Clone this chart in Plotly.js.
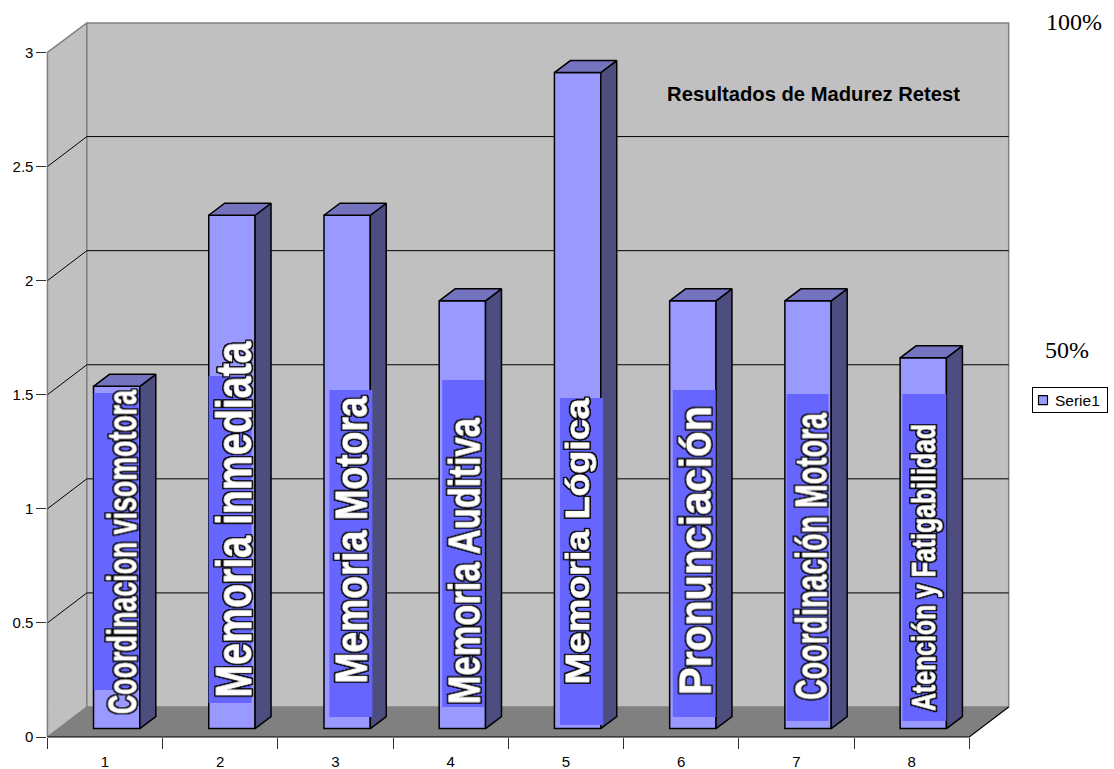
<!DOCTYPE html>
<html>
<head>
<meta charset="utf-8">
<script src="https://cdn.plot.ly/plotly-3.0.1.min.js"></script>
<style>html,body{margin:0;padding:0;background:#fff}</style>
</head>
<body>
<svg width="0" height="0" style="position:absolute">
  <filter id="captionOutline" x="-5%" y="-20%" width="110%" height="140%" color-interpolation-filters="sRGB">
    <feMorphology in="SourceAlpha" operator="dilate" radius="1"/>
    <feGaussianBlur stdDeviation="0.6"/>
    <feComponentTransfer result="wide">
      <feFuncA type="linear" slope="2.4"/>
    </feComponentTransfer>
    <feFlood flood-color="#000"/>
    <feComposite in2="wide" operator="in" result="outline"/>
    <feMerge>
      <feMergeNode in="outline"/>
      <feMergeNode in="SourceGraphic"/>
    </feMerge>
  </filter>
</svg>
<div id="chart" style="width:1114px;height:769px"></div>
<script>
// Chart data
const categories = [1, 2, 3, 4, 5, 6, 7, 8];
const seriesName = 'Serie1';
const serie1 = [1.5, 2.25, 2.25, 1.875, 2.875, 1.875, 1.875, 1.625];
const barLabels = [
  'Coordinacion visomotora', 'Memoria inmediata', 'Memoria Motora', 'Memoria Auditiva',
  'Memoria Lógica', 'Pronunciación', 'Coordinación Motora', 'Atención y Fatigabilidad'
];
const yTicks = [0, 0.5, 1, 1.5, 2, 2.5, 3];
const chartTitle = 'Resultados de Madurez Retest';

// Page and plot geometry (pixels)
const W = 1114, H = 769;
const frameL = 47.5, frameR = 971, frameB = 737, frameT = 52.5;
const wallDx = 39.5, wallDy = 30;
const px = v => v / W;
const py = v => 1 - v / H;
const unitX = (frameR - frameL) / 8;
const unitY = (frameB - frameT) / 3;

// Bar placement inside each category, and its depth, in axis units
const barOffset = -0.1, barWidth = 0.402, barBase = 0.0368;
const depthX = 16 / unitX, depthY = 12 / unitY;

// Polygons of the bars' side and top faces, derived from the values
const sideX = [], sideY = [], topX = [], topY = [];
categories.forEach((c, i) => {
  const a = c + barOffset, b = a + barWidth;
  const lo = barBase, hi = barBase + serie1[i];
  sideX.push(b, b + depthX, b + depthX, b, b, null);
  sideY.push(lo, lo + depthY, hi + depthY, hi, lo, null);
  topX.push(a, a + depthX, b + depthX, b, a, null);
  topY.push(hi, hi + depthY, hi + depthY, hi, hi, null);
});

const traces = [
  {
    type: 'bar', name: seriesName, x: categories, y: serie1,
    base: categories.map(() => barBase), offset: barOffset, width: barWidth,
    marker: { color: '#9999FF', line: { color: '#000', width: 1.5 } },
    hoverinfo: 'x+y'
  },
  {
    type: 'scatter', mode: 'lines', x: sideX, y: sideY, fill: 'toself', fillcolor: '#4D4D80',
    line: { color: '#000', width: 1.5 }, showlegend: false, hoverinfo: 'skip'
  },
  {
    type: 'scatter', mode: 'lines', x: topX, y: topY, fill: 'toself', fillcolor: '#7373BF',
    line: { color: '#000', width: 1.5 }, showlegend: false, hoverinfo: 'skip'
  }
];

// Straight path through pixel points, expressed in paper fractions
const toPath = pts => 'M' + pts.map(p => px(p[0]) + ',' + py(p[1])).join('L');
const pathShape = (pts, extra) => Object.assign(
  { type: 'path', xref: 'paper', yref: 'paper', layer: 'below', path: toPath(pts) }, extra);

const backL = frameL + wallDx, backR = frameR + wallDx;
const backB = frameB - wallDy, backT = frameT - wallDy + 0.5;
const wallEdge = { color: '#808080', width: 1.5 };

const shapes = [
  pathShape([[frameL, frameB], [backL, backB], [backL, backT], [frameL, frameT], [frameL, frameB]],
    { fillcolor: '#C0C0C0', line: wallEdge }),
  pathShape([[backL, backT], [backR, backT], [backR, backB], [backL, backB], [backL, backT]],
    { fillcolor: '#C0C0C0', line: wallEdge }),
  pathShape([[frameL, frameB], [backL, backB], [backR, backB], [frameR, frameB], [frameL, frameB]],
    { fillcolor: '#808080', line: { width: 0 } }),
  pathShape([[frameL, frameB], [frameR, frameB], [backR, backB]], { line: { color: '#000', width: 1.2 } })
];

// Gridlines run along the side wall and across the back wall
yTicks.filter(v => v > 0 && v < 3).forEach(v => {
  const y = frameB - v * unitY;
  shapes.push(pathShape([[frameL, y], [backL, y - wallDy], [backR, y - wallDy]],
    { line: { color: '#000', width: 1 } }));
});

// Label plates behind the vertical captions: [x0, x1, y0, y1]
const plates = [
  [94, 139, 393, 690], [209, 252, 376, 703], [330, 373, 390, 717], [443, 485, 380, 707],
  [561, 604, 398, 725], [674, 717, 390, 717], [788, 830, 394, 721], [904, 948, 394, 721]
];
plates.forEach(r => shapes.push({
  type: 'rect', xref: 'paper', yref: 'paper', layer: 'above',
  x0: px(r[0]), x1: px(r[1]), y0: py(r[2]), y1: py(r[3]),
  fillcolor: '#6666FF', line: { width: 0 }
}));

// Vertical captions: baseline x, first and last y of the run, font size
const captionFit = [
  [136.8, 388, 714, 41], [251.8, 340, 698, 49.6], [367.5, 395, 684, 45], [479.8, 417, 705, 44],
  [589.5, 397, 685, 33.5], [711.5, 405, 696, 43.5], [827.8, 412, 701, 44], [936.8, 423, 712, 33]
];
const annotations = barLabels.map((t, i) => {
  const f = captionFit[i];
  return {
    text: t, xref: 'paper', yref: 'paper', showarrow: false, textangle: -90,
    x: px(f[0] - 0.3465 * f[3]), y: py((f[1] + f[2]) / 2), xanchor: 'center', yanchor: 'middle',
    font: { family: 'Liberation Sans', size: f[3], weight: 700, color: '#fff' }
  };
});
[['100%', 1075.5, 22], ['50%', 1069, 350]].forEach(a => annotations.push({
  text: a[0], xref: 'paper', yref: 'paper', showarrow: false,
  x: px(a[1]), y: py(a[2]), xanchor: 'center', yanchor: 'middle',
  font: { family: 'Liberation Serif', size: 24, color: '#000' }
}));

const layout = {
  width: W, height: H, autosize: false,
  margin: { l: 0, r: 0, t: 0, b: 0, pad: 0 },
  paper_bgcolor: '#fff', plot_bgcolor: 'rgba(0,0,0,0)',
  font: { family: 'Liberation Sans', size: 15, color: '#000' },
  title: {
    text: chartTitle, xref: 'container', yref: 'container',
    x: px(813.5), y: py(94), xanchor: 'center', yanchor: 'middle',
    font: { family: 'Liberation Sans', size: 20.2, weight: 700, color: '#000' }
  },
  xaxis: {
    domain: [px(frameL), px(frameR)], range: [0.5, 8.5], zeroline: false, showgrid: false, showline: false,
    tickmode: 'array', tickvals: categories, ticktext: categories.map(String), ticks: '',
    ticklabelstandoff: 14,
    minor: {
      tickmode: 'array', tickvals: [0.5, 1.5, 2.5, 3.5, 4.5, 5.5, 6.5, 7.5, 8.5],
      ticks: 'outside', ticklen: 11, tickwidth: 1, tickcolor: '#333', showgrid: false
    }
  },
  yaxis: {
    domain: [py(frameB), py(frameT)], range: [0, 3], zeroline: false, showgrid: false, showline: false,
    tickmode: 'array', tickvals: yTicks, ticktext: yTicks.map(String),
    ticks: 'outside', ticklen: 10, tickwidth: 1, tickcolor: '#333'
  },
  showlegend: true,
  legend: {
    x: px(1034), y: py(382.5), xanchor: 'left', yanchor: 'top', xref: 'paper', yref: 'paper',
    bgcolor: '#fff', bordercolor: '#000', borderwidth: 1, font: { size: 15.5 }, indentation: -10,
    entrywidth: 36, entrywidthmode: 'pixels'
  },
  shapes: shapes,
  annotations: annotations
};

Plotly.newPlot('chart', traces, layout, { displayModeBar: false }).then(() => {
  // Heavy white lettering with a black outline, fitted to each bar's caption run
  document.querySelectorAll('.infolayer .annotation').forEach(g => {
    const i = +g.getAttribute('data-index');
    if (i >= captionFit.length) return;
    const text = g.querySelector('text.annotation-text');
    text.setAttribute('textLength', captionFit[i][2] - captionFit[i][1] - 2);
    text.setAttribute('lengthAdjust', 'spacingAndGlyphs');
    text.style.stroke = '#fff';
    text.style.strokeWidth = '0.9px';
    text.style.filter = 'url(#captionOutline)';
  });

  // Compact legend box, swatch and label spacing
  const legend = document.querySelector('.legend');
  const bg = legend.querySelector('rect.bg');
  bg.setAttribute('y', +bg.getAttribute('y') + 4.5);
  bg.setAttribute('width', 75);
  bg.setAttribute('height', 25);
  const label = legend.querySelector('text.legendtext');
  label.setAttribute('x', +label.getAttribute('x') - 8);
  const swatch = legend.querySelector('.legendpoints path');
  swatch.setAttribute('transform', (swatch.getAttribute('transform') || '') + ' scale(0.75)');
});
</script>
</body>
</html>
